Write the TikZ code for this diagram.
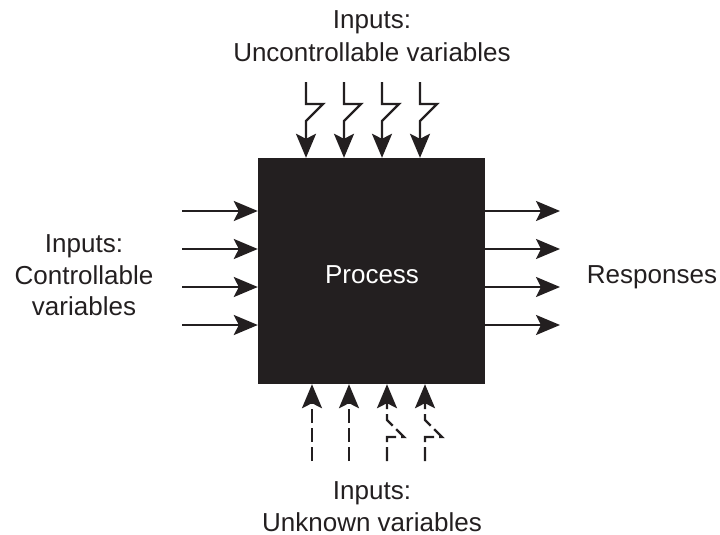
\documentclass[tikz,border=0pt]{standalone}
\usepackage{fontspec}
\setmainfont{Liberation Sans}
\usetikzlibrary{arrows.meta}
\definecolor{ink}{RGB}{35,31,32}
\tikzset{
  lbl/.style={text=ink, anchor=base, inner sep=0pt, font=\fontsize{26}{33}\selectfont},
  arr/.style={draw=ink, line width=2.4pt, -{Stealth[length=24pt, width=20pt, inset=5pt]}},
  darr/.style={arr, dash pattern=on 14pt off 5pt},
}
\begin{document}
\begin{tikzpicture}[x=1pt, y=-1pt]
  \useasboundingbox (0,0) rectangle (720,535);

  % process block
  \node[fill=ink, minimum width=227pt, minimum height=226pt, inner sep=0pt] (proc) at (371.5,271) {};
  \node[lbl, text=white] (proctxt) at (372,283) {Process};

  % controllable inputs (left)
  \foreach \i/\y in {1/211, 2/249, 3/287, 4/325} {
    \coordinate (l\i) at (182,\y);
    \draw[arr] (l\i) -- (l\i -| proc.west);
  }
  \node[lbl] (ctl1) at (84,252) {Inputs:};
  \node[lbl] (ctl2) at (84,284) {Controllable};
  \node[lbl] (ctl3) at (84,315) {variables};

  % responses (right)
  \foreach \i/\y in {1/211, 2/249, 3/287, 4/325} {
    \coordinate (r\i) at (560,\y);
    \draw[arr] (r\i -| proc.east) -- (r\i);
  }
  \node[lbl] (resp) at (652,283) {Responses};

  % uncontrollable inputs (top), zigzag shafts
  \foreach \i/\x in {1/306, 2/344, 3/382, 4/420} {
    \coordinate (t\i) at (\x,82);
    \draw[arr] (t\i) -- ++(0,22) -- ++(17,0) -- ++(-17,17) -- (t\i |- proc.north);
  }
  \node[lbl] (unc1) at (372,29) {Inputs:};
  \node[lbl] (unc2) at (372,62) {Uncontrollable variables};

  % unknown inputs (bottom), dashed shafts
  \foreach \i/\x in {1/312, 2/349} {
    \coordinate (b\i) at (\x,461);
    \draw[darr] (b\i) -- (b\i |- proc.south);
  }
  \foreach \i/\x in {3/387, 4/425} {
    \coordinate (b\i) at (\x,461);
    \draw[darr] (b\i) -- ++(0,-24) -- ++(17,0) -- ++(-17,-17) -- (b\i |- proc.south);
  }
  \node[lbl] (unk1) at (372,499) {Inputs:};
  \node[lbl] (unk2) at (372,531) {Unknown variables};
\end{tikzpicture}
\end{document}
